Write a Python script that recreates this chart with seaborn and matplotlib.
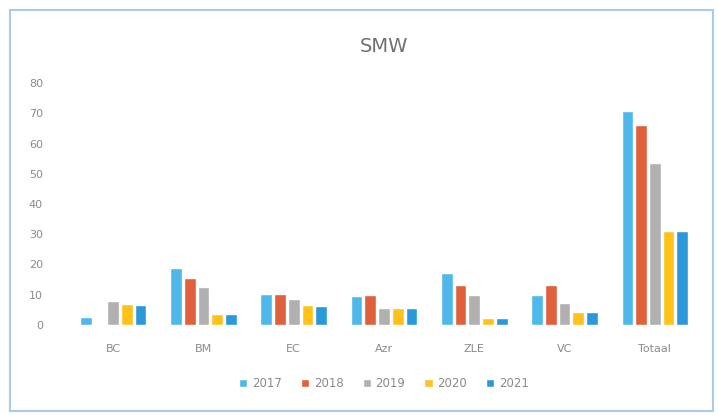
import matplotlib
matplotlib.use("Agg")
import matplotlib.pyplot as plt
import seaborn as sns
import pandas as pd
from matplotlib.patches import Rectangle

categories = ["BC", "BM", "EC", "Azr", "ZLE", "VC", "Totaal"]
years = ["2017", "2018", "2019", "2020", "2021"]
v2017 = [2.5, 18.8, 10.4, 9.5, 17.3, 9.9, 70.6]
v2018 = [0.4, 15.6, 10.4, 10.0, 13.1, 13.1, 66.0]
v2019 = [7.9, 12.6, 8.5, 5.5, 10.0, 7.3, 53.7]
v2020 = [7.0, 3.7, 6.5, 5.5, 2.4, 4.2, 31.2]
v2021 = [6.7, 3.7, 6.3, 5.5, 2.3, 4.2, 31.0]
colors = ["#4FB8EA", "#E0603C", "#B0B0B0", "#FFC21A", "#2B98D9"]

series = [v2017, v2018, v2019, v2020, v2021]
rows = []
for y, vals in zip(years, series):
    for c, v in zip(categories, vals):
        rows.append({"cat": c, "year": y, "value": v})
df = pd.DataFrame(rows)

sns.set_theme(style="white")
plt.rcParams['font.family'] = ['DejaVu Sans']

fig = plt.figure(figsize=(7.18, 4.15), dpi=100)
ax = fig.add_axes([68/718, 1-325/415, (700-68)/718, (325-83)/415])
sns.barplot(data=df, x="cat", y="value", hue="year", palette=colors,
            order=categories, hue_order=years, width=0.76, gap=0.15,
            saturation=1, ax=ax, legend=True)
ax.set_ylim(0, 80)
ax.set_xlim(-0.5, 6.5)
ax.set_yticks(range(0, 81, 10))
ax.set_xlabel("")
ax.set_ylabel("")
for s in ax.spines.values():
    s.set_visible(False)
ax.tick_params(axis="both", colors="#8A8A8A", labelsize=8, length=0)
ax.tick_params(axis="y", pad=18)
ax.tick_params(axis="x", pad=14)
ax.set_title("SMW", fontsize=14, color="#707070", pad=22)

leg = ax.legend(loc="upper center", bbox_to_anchor=(0.5, -0.17), ncol=5,
                frameon=False, fontsize=8.5, handlelength=0.7, handleheight=0.7,
                columnspacing=1.6, handletextpad=0.4)
for t in leg.get_texts():
    t.set_color("#8A8A8A")

fig.patches.append(Rectangle((10/718, 1-411/415), (713-10)/718, (411-10)/415,
                             transform=fig.transFigure, fill=False,
                             edgecolor="#A9CBE8", linewidth=1.5))
fig.savefig("out.png", dpi=100)
